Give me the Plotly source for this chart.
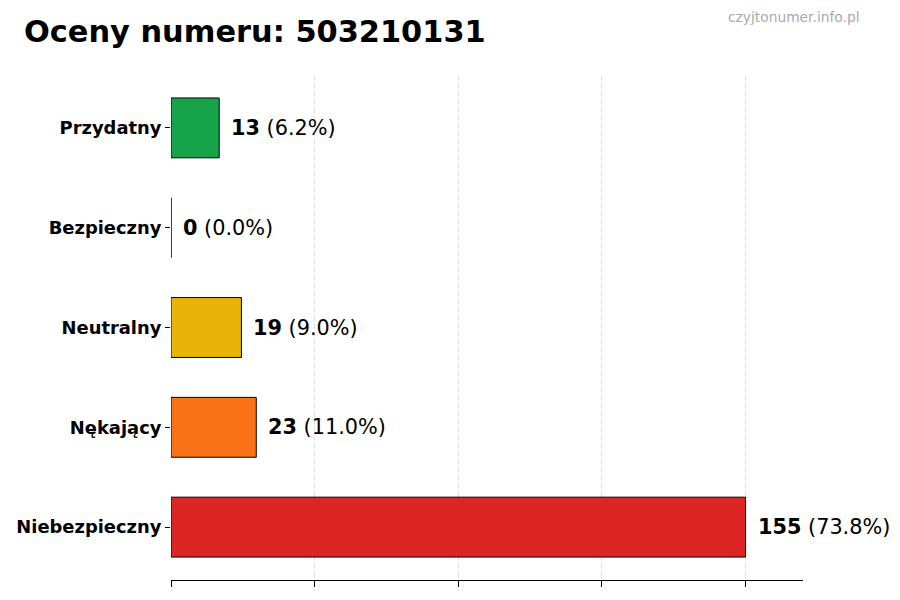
import plotly.graph_objects as go

# -----------------------------
# Data
# -----------------------------
categories = ["Niebezpieczny", "Nękający", "Neutralny", "Bezpieczny", "Przydatny"]
counts = [155, 23, 19, 0, 13]
percents = [73.8, 11.0, 9.0, 0.0, 6.2]
colors = ["#dc2626", "#f97316", "#eab308", "#2563eb", "#16a34a"]
phone = "503210131"

max_val = max(counts)
grid_ticks = [max_val * i / 4 for i in range(5)]

# page body adds ~8px offset, compensate in margins
MARGIN_L, MARGIN_R, MARGIN_T, MARGIN_B = 163, 105, 68, 28
plot_h = 600 - MARGIN_T - MARGIN_B

fig = go.Figure()
fig.add_trace(go.Bar(
    x=counts,
    y=categories,
    orientation="h",
    width=0.6,
    marker=dict(color=colors, line=dict(color="black", width=1)),
    hoverinfo="skip",
))

# value labels next to bars
for cat, c, p in zip(categories, counts, percents):
    fig.add_annotation(
        x=c, y=cat, xref="x", yref="y",
        text=f"<b>{c}</b> ({p:.1f}%)",
        showarrow=False, xanchor="left", yanchor="middle",
        xshift=10,
        font=dict(family="DejaVu Sans", size=20.8, color="black"),
    )

# watermark
fig.add_annotation(
    x=(854 - MARGIN_L) / (900 - MARGIN_L - MARGIN_R),
    y=1 + (MARGIN_T - 9) / plot_h,
    xref="paper", yref="paper",
    text="czyjtonumer.info.pl", showarrow=False,
    xanchor="right", yanchor="middle",
    font=dict(family="DejaVu Sans", size=13.8, color="#aaaaaa"),
)

fig.update_layout(
    width=900, height=600,
    margin=dict(l=MARGIN_L, r=MARGIN_R, t=MARGIN_T, b=MARGIN_B),
    paper_bgcolor="white", plot_bgcolor="white",
    showlegend=False,
    title=dict(
        text=f"<b>Oceny numeru: {phone}</b>",
        x=16 / 900, xref="container", xanchor="left",
        y=1 - 23 / 600, yref="container", yanchor="middle",
        font=dict(family="DejaVu Sans", size=30.4, color="black"),
    ),
    xaxis=dict(
        range=[0, max_val * 1.1],
        tickvals=grid_ticks,
        showticklabels=False,
        ticks="outside", ticklen=6, tickcolor="black",
        showgrid=True, gridcolor="#dddddd", griddash="5px,3px", gridwidth=1,
        showline=True, linecolor="black", linewidth=1.2,
        zeroline=False,
        layer="above traces",
        automargin=False,
    ),
    yaxis=dict(
        categoryorder="array", categoryarray=categories,
        range=[-0.53, 4.52],
        ticks="outside", ticklen=5, tickcolor="black",
        showgrid=False, showline=False, zeroline=False,
        automargin=False,
        tickfont=dict(family="DejaVu Sans", size=17.9, color="black", weight="bold"),
    ),
)

fig.write_html("out.html")
